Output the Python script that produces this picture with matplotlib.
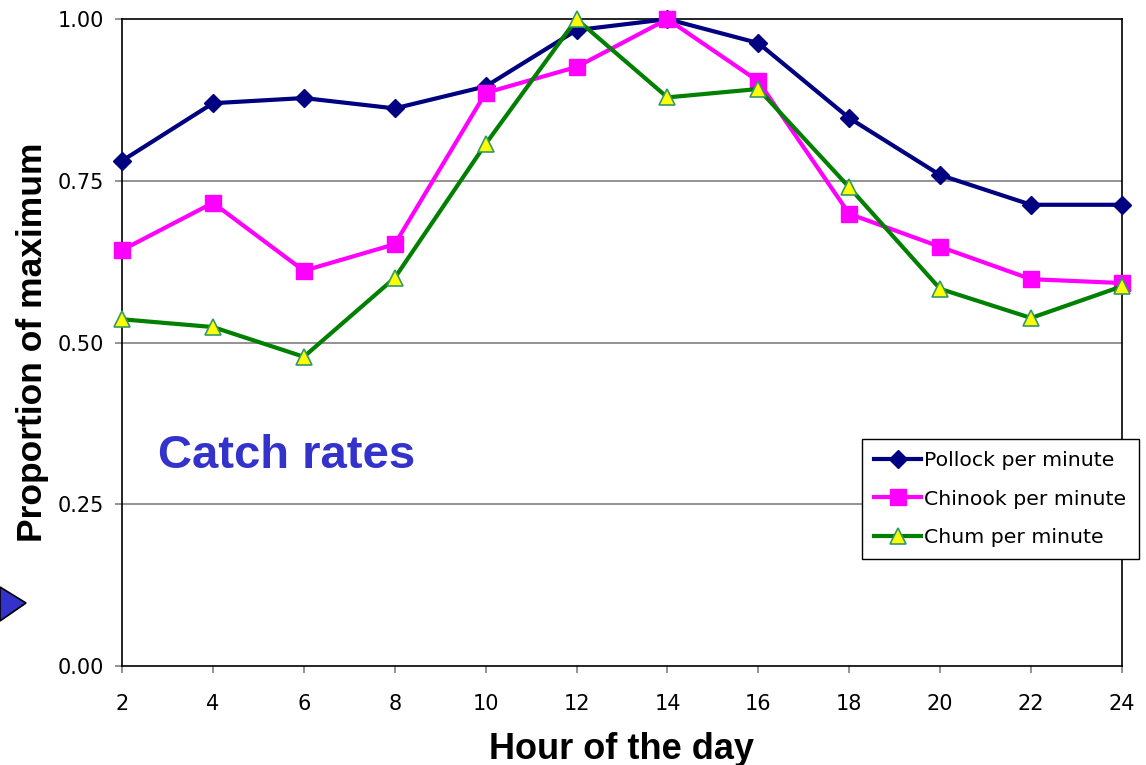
import matplotlib
matplotlib.use("Agg")
import matplotlib.pyplot as plt
from matplotlib.patches import Polygon

hours = [2, 4, 6, 8, 10, 12, 14, 16, 18, 20, 22, 24]
pollock = [0.781, 0.870, 0.878, 0.862, 0.896, 0.983, 1.000, 0.963, 0.847, 0.759, 0.713, 0.713]
chinook = [0.643, 0.716, 0.611, 0.652, 0.886, 0.926, 1.000, 0.904, 0.699, 0.648, 0.598, 0.592]
chum = [0.536, 0.524, 0.478, 0.600, 0.807, 1.000, 0.879, 0.892, 0.740, 0.583, 0.538, 0.587]
y_ticks = [0.0, 0.25, 0.5, 0.75, 1.0]

plt.rcParams['font.family'] = ['DejaVu Sans']

fig = plt.figure(figsize=(11.46, 7.65), dpi=100)
ax = fig.add_axes([0.1065, 0.1294, 0.8725, 0.8456])

for y in y_ticks[1:4]:
    ax.axhline(y, color="#808080", lw=1.2, zorder=1)

ax.plot(hours, pollock, color="#000080", lw=3, marker="D", ms=9,
        label="Pollock per minute", zorder=3, clip_on=False)
ax.plot(hours, chinook, color="#FF00FF", lw=3, marker="s", ms=11,
        label="Chinook per minute", zorder=4, clip_on=False)
ax.plot(hours, chum, color="#008000", lw=3, marker="^", ms=12,
        markerfacecolor="#FFFF00", markeredgecolor="#339966", markeredgewidth=1.2,
        label="Chum per minute", zorder=5, clip_on=False)

ax.set_xlim(2, 24)
ax.set_ylim(0, 1)
ax.set_xticks(hours)
ax.set_yticks(y_ticks)
ax.set_yticklabels(["%.2f" % v for v in y_ticks])
ax.tick_params(direction="out", length=5, width=1.2, color="#808080", labelsize=15)
ax.tick_params(axis="x", pad=15)
ax.tick_params(axis="y", pad=8)
for s in ax.spines.values():
    s.set_linewidth(1.2)

ax.set_xlabel("Hour of the day", fontsize=26, fontweight="bold",
              family="Liberation Sans", labelpad=13)
ax.set_ylabel("Proportion of maximum", fontsize=25.5, fontweight="bold",
              family="Liberation Sans", labelpad=6)

ax.text(0.036, 0.325, "Catch rates", transform=ax.transAxes, fontsize=34,
        fontweight="bold", color="#3333CC", family="Liberation Sans", va="center")

leg = ax.legend(loc="upper left", bbox_to_anchor=(0.74, 0.351), fontsize=14.7,
                fancybox=False, edgecolor="black", framealpha=1, handlelength=2.3,
                borderpad=0.6, labelspacing=0.95, handletextpad=0.15,
                borderaxespad=0)
leg.get_frame().set_linewidth(1.0)
leg.set_zorder(10)

arrow = Polygon([[0, 1 - 587 / 765], [26 / 1146, 1 - 603 / 765], [0, 1 - 621 / 765]],
                closed=True, transform=fig.transFigure, facecolor="#3333CC",
                edgecolor="black", lw=1.2)
fig.patches.append(arrow)

fig.savefig("out.png", dpi=100)
